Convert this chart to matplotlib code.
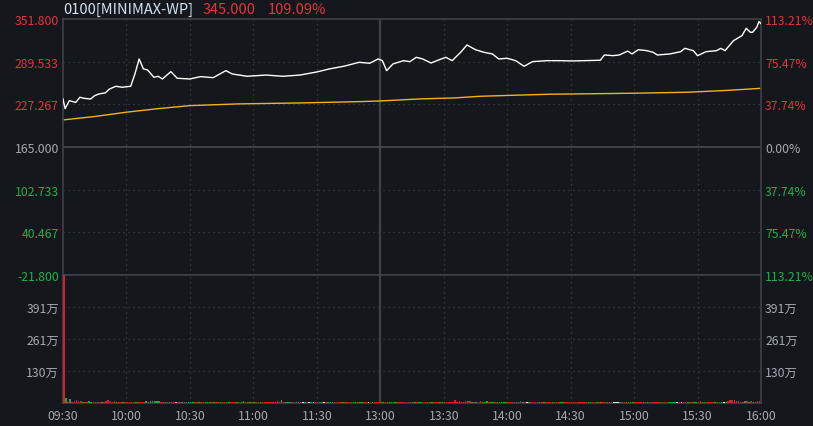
import matplotlib
matplotlib.use("Agg")
import matplotlib.pyplot as plt

plt.rcParams['font.family'] = ['Noto Sans CJK SC', 'DejaVu Sans']

BG = '#14171c'
RED = '#e8333b'
GREEN = '#22b04b'
GRAY = '#a3aab3'
FRAME = '#3e4148'
GRID = '#3a3e46'

# session minutes: 0 = 09:30, 150 = 13:00 (lunch break removed), 330 = 16:00
time_ticks = [0, 30, 60, 90, 120, 150, 180, 210, 240, 270, 300, 330]
time_labels = ['09:30', '10:00', '10:30', '11:00', '11:30', '13:00',
               '13:30', '14:00', '14:30', '15:00', '15:30', '16:00']

prev_close = 165.0
price_ticks = [351.8, 289.533, 227.267, 165.0, 102.733, 40.467, -21.8]

price_min = [0, 1, 3, 6, 8, 10, 13, 15, 17, 20, 22, 25, 28, 32, 34, 36, 38, 40,
             43, 45, 47, 51, 54, 60, 65, 71, 77, 80, 87, 96, 104, 112, 120, 126,
             133, 140, 145, 149, 151, 153, 156, 161, 164, 167, 170, 174, 178, 181,
             184, 188, 191, 195, 199, 203, 206, 210, 214, 218, 222, 229, 235, 241,
             254, 256, 260, 263, 267, 269, 272, 276, 279, 281, 287, 292, 294, 298,
             300, 304, 309, 311, 313, 317, 321, 323, 325, 326, 328, 329, 330]
price = [235.0, 221.0, 232.7, 230.0, 237.6, 236.0, 235.0, 240.0, 242.4, 244.0,
         249.7, 253.6, 252.2, 253.6, 271.6, 293.5, 279.0, 277.4, 266.7, 268.2,
         264.3, 275.0, 265.3, 264.3, 267.7, 266.2, 276.4, 271.6, 268.2, 270.0,
         268.2, 270.0, 274.5, 279.0, 283.0, 288.6, 287.2, 293.5, 291.0, 276.4,
         286.2, 291.0, 289.6, 295.9, 293.5, 287.6, 292.5, 295.9, 291.0, 303.2,
         313.9, 307.0, 303.2, 300.8, 293.5, 294.5, 291.0, 282.8, 289.6, 291.0,
         291.0, 290.6, 291.6, 299.3, 298.3, 299.3, 305.0, 300.8, 307.0, 305.6,
         303.2, 299.3, 300.8, 304.1, 309.0, 305.6, 298.3, 304.1, 305.6, 309.0,
         305.6, 320.2, 327.5, 338.2, 332.4, 332.4, 339.7, 348.0, 345.0]

avg_min = [0, 15, 30, 45, 60, 83, 112, 140, 150, 169, 185, 197, 213, 230, 268,
           295, 312, 323, 330]
avg_price = [204.5, 209.5, 215.8, 221.0, 225.4, 227.9, 229.3, 231.2, 232.2, 235.2,
             236.6, 239.0, 240.5, 242.0, 243.4, 244.9, 247.3, 249.3, 250.7]

# volume per minute, in 万 shares; colour r = up, g = down, w = flat
volume = [
    540, 20, 6, 16, 4, 8, 14, 8, 10, 5, 4, 4, 8, 6, 5, 4, 5, 4, 4, 6, 8, 14, 7, 6, 7, 6, 5, 4, 4, 4,
    6, 6, 5, 6, 4, 4, 4, 4, 5, 7, 6, 8, 7, 8, 8, 8, 6, 4, 4, 6, 4, 4, 4, 4, 3, 4, 4, 4, 4, 4,
    4, 4, 4, 4, 5, 4, 4, 4, 4, 4, 4, 4, 4, 4, 4, 4, 4, 4, 4, 4, 4, 4, 4, 4, 4, 8, 4, 4, 4, 4,
    4, 4, 4, 4, 4, 4, 4, 4, 4, 4, 4, 8, 4, 14, 4, 4, 4, 4, 4, 4, 4, 4, 4, 3, 3, 3, 3, 3, 3, 3,
    3, 3, 3, 3, 3, 3, 3, 3, 3, 3, 3, 3, 6, 3, 3, 3, 3, 3, 3, 3, 3, 3, 3, 3, 3, 3, 3, 3, 3, 6,
    4, 4, 4, 4, 4, 4, 4, 4, 4, 4, 4, 4, 4, 4, 4, 4, 4, 4, 4, 4, 4, 4, 4, 4, 4, 4, 4, 4, 4, 4,
    4, 4, 4, 4, 4, 14, 4, 8, 4, 4, 8, 10, 10, 4, 4, 4, 4, 8, 4, 4, 10, 4, 4, 4, 4, 4, 4, 4, 4, 4,
    4, 4, 4, 4, 4, 4, 8, 4, 4, 4, 4, 4, 4, 4, 4, 4, 4, 4, 4, 4, 4, 4, 4, 4, 4, 4, 4, 4, 4, 4,
    4, 4, 4, 4, 4, 4, 4, 4, 4, 4, 4, 4, 4, 4, 4, 4, 4, 4, 4, 4, 4, 4, 4, 4, 4, 4, 4, 4, 4, 4,
    4, 4, 4, 4, 4, 4, 4, 4, 4, 4, 4, 4, 4, 4, 4, 4, 4, 4, 4, 4, 4, 4, 4, 4, 4, 4, 4, 4, 4, 4,
    4, 8, 4, 4, 4, 4, 4, 4, 4, 4, 4, 4, 4, 4, 10, 12, 12, 11, 10, 8, 4, 4, 10, 8, 4, 10, 4, 4, 10, 10,
    10,
]
vol_colour = (
    "rgrgrrrrrgrrggrrgrgrrrrrrgrrgr"
    "rrrrgrrrrgggggggrrgrgrrwrrgrrg"
    "ggrrgrrgggrgrrgrrggrrrgrggrrgr"
    "grrgrrrrrrrrrgrgggrrgrrwgrwgwr"
    "rrgwrgggrrrrgrrrrggrggrrwrgrrr"
    "rgrrggggrrrrrrgrgrggrrrrgrrrgg"
    "rrrrrrrrrrrrrgrgrrgggrggrgrggg"
    "rrrrrgrgrwgrrrrgrgrrrgrrrggrrr"
    "rrrrrrrrggrrgrgrrgrrwwwgrrgrgg"
    "rrrrgrggrrrrrgrrggggwrwrrgrrgg"
    "rrggrrrrggrgwgrrrrrrrrgrgrgrrr"
    "r"
)
vol_ticks = [130.3, 260.6, 390.9]
vol_labels = ['130万', '261万', '391万']
vol_max = 521.2

FS = 8.8

fig = plt.figure(figsize=(8.13, 4.27), dpi=100, facecolor=BG)
L, R = 63 / 813, 761 / 813
ax = fig.add_axes([L, (427 - 276) / 427, R - L, 256 / 427])
axv = fig.add_axes([L, (427 - 404) / 427, R - L, 128 / 427])

for a in (ax, axv):
    a.set_facecolor(BG)
    a.set_xlim(0, 330)
    for s in a.spines.values():
        s.set_color(FRAME)
        s.set_linewidth(1.2)
    a.tick_params(length=0, labelsize=FS, colors=GRAY)
    for t in time_ticks:
        if t == 150:
            a.axvline(t, color=FRAME, lw=1.6, zorder=1)
        elif 0 < t < 330:
            a.axvline(t, color=GRID, lw=0.9, ls=(0, (1, 3)), zorder=1)

# price panel
ax.set_ylim(-21.8, 351.8)
for p in price_ticks[1:-1]:
    if p == prev_close:
        ax.axhline(p, color='#474a50', lw=1.2, zorder=1)
    else:
        ax.axhline(p, color=GRID, lw=0.9, ls=(0, (1, 3)), zorder=1)
ax.plot(price_min, price, color='white', lw=1.0, zorder=3)
ax.plot(avg_min, avg_price, color='#f2b21c', lw=1.0, zorder=2)
ax.set_xticks([])
ax.set_yticks(price_ticks)
ax.set_yticklabels([f'{p:.3f}' for p in price_ticks])
ax.tick_params(axis='y', pad=3)

def tick_colour(p):
    if p > prev_close:
        return RED
    if p < prev_close:
        return GREEN
    return GRAY

for lab, p in zip(ax.get_yticklabels(), price_ticks):
    lab.set_color(tick_colour(p))

axr = ax.twinx()
axr.set_ylim(ax.get_ylim())
axr.set_yticks(price_ticks)
axr.set_yticklabels([f'{abs(p - prev_close) / prev_close * 100:.2f}%' for p in price_ticks])
axr.tick_params(length=0, labelsize=FS, pad=3)
for s in axr.spines.values():
    s.set_visible(False)
for lab, p in zip(axr.get_yticklabels(), price_ticks):
    lab.set_color(tick_colour(p))

# volume panel
axv.set_ylim(0, vol_max)
for v in vol_ticks:
    axv.axhline(v, color=GRID, lw=0.9, ls=(0, (1, 3)), zorder=1)
cmap = {'r': '#d3212b', 'g': '#15a83c', 'w': '#e8e8e8'}
axv.bar(range(len(volume)), volume, width=0.75, align='edge',
        color=[cmap[c] for c in vol_colour], antialiased=False, zorder=4)
axv.set_yticks(vol_ticks)
axv.set_yticklabels(vol_labels)
axv.tick_params(axis='y', labelleft=True, labelright=True, pad=3)
axv.set_xticks(time_ticks)
axv.set_xticklabels(time_labels)
axv.tick_params(axis='x', pad=4)

# header
hy = 1 - 10 / 427
fig.text(63 / 813, hy, '0100[MINIMAX-WP]', color='#d2e2f4',
         fontsize=10.5, va='center', ha='left')
fig.text(203 / 813, hy, '345.000', color=RED, fontsize=10.5,
         va='center', ha='left')
fig.text(268 / 813, hy, '109.09%', color=RED, fontsize=10.5,
         va='center', ha='left')

fig.savefig('out.png', dpi=100, facecolor=BG)
